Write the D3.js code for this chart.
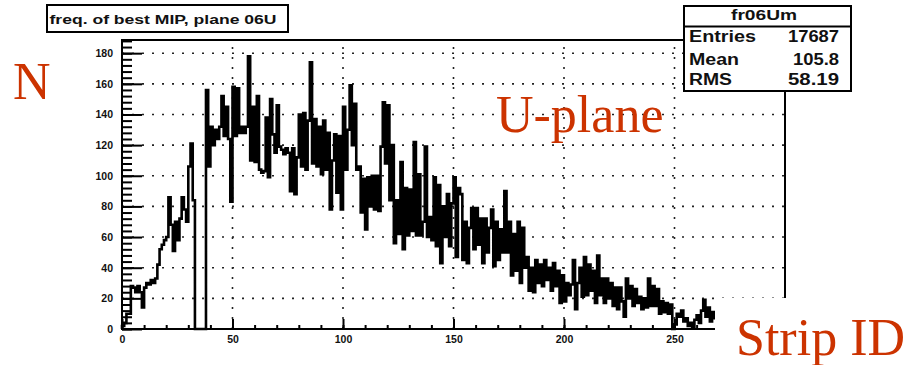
<!DOCTYPE html>
<html>
<head>
<meta charset="utf-8">
<script src="https://cdn.jsdelivr.net/npm/d3@7"></script>
<style>
  body { margin: 0; background: #fff; }
  svg { display: block; }
</style>
</head>
<body>
<svg id="chart" width="915" height="365"></svg>
<script>
// Counts per strip (one bin per strip, strips 0..268)
const counts = [
  2, 4, 10, 10, 28, 27, 24, 28, 24, 14,
  27, 30, 29, 32, 30, 33, 42, 52, 55, 58,
  60, 86, 68, 51, 70, 58, 72, 86, 78, 70,
  106, 121, 84, 0, 0, 0, 0, 0, 156, 106,
  132, 120, 130, 124, 132, 152, 126, 145, 124, 83,
  158, 126, 157, 128, 132, 128, 132, 178, 110, 145,
  109, 152, 104, 102, 103, 138, 99, 150, 127, 115,
  146, 119, 117, 114, 118, 115, 90, 118, 88, 112,
  140, 106, 141, 104, 136, 174, 108, 137, 106, 132,
  101, 136, 104, 128, 78, 110, 127, 89, 126, 78,
  145, 104, 130, 159, 120, 147, 104, 106, 76, 98,
  65, 99, 80, 100, 78, 100, 77, 119, 148, 108,
  146, 84, 120, 56, 84, 62, 109, 52, 92, 61,
  91, 64, 122, 61, 101, 61, 70, 119, 60, 73,
  58, 99, 54, 94, 43, 80, 60, 88, 54, 82,
  99, 47, 92, 88, 45, 70, 43, 66, 79, 52,
  79, 55, 72, 43, 72, 50, 66, 78, 41, 70,
  45, 65, 50, 90, 50, 70, 35, 62, 38, 70,
  30, 66, 40, 47, 25, 40, 24, 45, 30, 42,
  28, 45, 32, 40, 25, 43, 28, 38, 17, 35,
  18, 30, 22, 29, 45, 13, 30, 40, 21, 47,
  22, 42, 25, 38, 17, 48, 22, 33, 17, 33,
  20, 30, 15, 27, 13, 27, 18, 8, 33, 20,
  28, 15, 26, 17, 21, 13, 20, 14, 33, 15,
  28, 15, 26, 10, 18, 11, 17, 10, 16, 0,
  3, 10, 8, 12, 5, 7, 2, 4, 1, 6,
  9, 4, 12, 19, 8, 14, 5, 11, 7
];

const yTicks = [0, 20, 40, 60, 80, 100, 120, 140, 160, 180];
const yMinorTicks = d3.range(0, 189, 4);
const xTicks = [0, 50, 100, 150, 200, 250];
const xMinorTicks = d3.range(0, 301, 10);

const titleText = "freq. of best MIP, plane 06U";
const statsName = "fr06Um";
const statsLabels = ["Entries", "Mean", "RMS"];
const statsValues = ["17687", "105.8", "58.19"];

const yLabel = "N";
const xLabel = "Strip ID";
const planeLabel = "U-plane";

const svg = d3.select("#chart");
const x = d3.scaleLinear().domain([0, 300]).range([122, 785]);
const y = d3.scaleLinear().domain([0, 188.6]).range([329, 40]);

const rootFont = "'Liberation Sans', Arial, Helvetica, sans-serif";
const serifFont = "'Liberation Serif', 'Times New Roman', Times, serif";
const red = "#cc3300";

// Dotted grid
const grid = svg.append("g").attr("stroke", "#222").attr("stroke-width", 1.6)
  .attr("stroke-dasharray", "2,8").attr("fill", "none");
grid.selectAll("line.h").data(yTicks.filter(d => d > 0)).join("line")
  .attr("class", "h")
  .attr("x1", x(0)).attr("x2", x(300))
  .attr("y1", d => y(d)).attr("y2", d => y(d));
grid.selectAll("line.v").data(xTicks.filter(d => d > 0)).join("line")
  .attr("class", "v")
  .attr("x1", d => x(d)).attr("x2", d => x(d))
  .attr("y1", y(0)).attr("y2", y.range()[1]);

// Histogram outline
const pts = [[0, 0]].concat(counts.map((c, i) => [i, c]));
pts.push([counts.length, counts[counts.length - 1]]);
pts.push([counts.length, 0]);
const line = d3.line().x(d => x(d[0])).y(d => y(d[1])).curve(d3.curveStepAfter);
svg.append("path").attr("d", line(pts))
  .attr("fill", "none").attr("stroke", "#000").attr("stroke-width", 2.6)
  .attr("stroke-linejoin", "miter");

// Ticks drawn inside the frame
function ticksOnly(g) { g.select(".domain").remove(); g.selectAll("text").remove(); g.selectAll("line").attr("stroke", "#000").attr("stroke-width", 2); }
svg.append("g").attr("transform", `translate(${x(0)},0)`)
  .call(d3.axisRight(y).tickValues(yMinorTicks).tickSize(10)).call(ticksOnly);
svg.append("g").attr("transform", `translate(${x(0)},0)`)
  .call(d3.axisRight(y).tickValues(yTicks).tickSize(20)).call(ticksOnly);
svg.append("g").attr("transform", `translate(0,${y(0)})`)
  .call(d3.axisTop(x).tickValues(xMinorTicks).tickSize(4)).call(ticksOnly);
svg.append("g").attr("transform", `translate(0,${y(0)})`)
  .call(d3.axisTop(x).tickValues(xTicks).tickSize(10)).call(ticksOnly);

// Tick labels
function labelsOnly(g) {
  g.select(".domain").remove(); g.selectAll("line").remove();
  g.selectAll("text").attr("fill", "#111").attr("font-family", rootFont)
    .attr("font-weight", "bold").attr("font-size", 10.5);
}
svg.append("g").attr("transform", `translate(${x(0)},0)`)
  .call(d3.axisLeft(y).tickValues(yTicks).tickSize(0).tickPadding(9)).call(labelsOnly);
svg.append("g").attr("transform", `translate(0,${y(0)})`)
  .call(d3.axisBottom(x).tickValues(xTicks).tickSize(0).tickPadding(7)).call(labelsOnly);

// Frame
svg.append("rect").attr("x", x(0)).attr("y", y.range()[1])
  .attr("width", x(300) - x(0)).attr("height", y(0) - y.range()[1])
  .attr("fill", "none").attr("stroke", "#000").attr("stroke-width", 2);

// Title box
svg.append("rect").attr("x", 47).attr("y", 5).attr("width", 241).attr("height", 27)
  .attr("fill", "#fff").attr("stroke", "#000").attr("stroke-width", 2);
svg.append("text").attr("x", 49.5).attr("y", 24).text(titleText)
  .attr("font-family", rootFont).attr("font-weight", "bold").attr("font-size", 13)
  .attr("textLength", 227).attr("lengthAdjust", "spacingAndGlyphs").attr("fill", "#111");

// Statistics box
svg.append("rect").attr("x", 684).attr("y", 6).attr("width", 167).attr("height", 85)
  .attr("fill", "#fff").attr("stroke", "#000").attr("stroke-width", 2);
svg.append("line").attr("x1", 684).attr("x2", 851).attr("y1", 26.5).attr("y2", 26.5)
  .attr("stroke", "#000").attr("stroke-width", 2);
svg.append("text").attr("x", 731).attr("y", 20).text(statsName)
  .attr("textLength", 66).attr("lengthAdjust", "spacingAndGlyphs")
  .attr("font-family", rootFont).attr("font-weight", "bold").attr("font-size", 15).attr("fill", "#111");
const rowY = [41.5, 64.5, 85];
const labelW = [67, 50, 43];
const valueW = [51, 46, 51];
svg.selectAll("text.slab").data(statsLabels).join("text").attr("class", "slab")
  .attr("x", 689).attr("y", (d, i) => rowY[i]).text(d => d)
  .attr("textLength", (d, i) => labelW[i]).attr("lengthAdjust", "spacingAndGlyphs")
  .attr("font-family", rootFont).attr("font-weight", "bold").attr("font-size", 16).attr("fill", "#111");
svg.selectAll("text.sval").data(statsValues).join("text").attr("class", "sval")
  .attr("x", (d, i) => 839 - valueW[i]).attr("y", (d, i) => rowY[i]).text(d => d)
  .attr("textLength", (d, i) => valueW[i]).attr("lengthAdjust", "spacingAndGlyphs")
  .attr("font-family", rootFont).attr("font-weight", "bold").attr("font-size", 16).attr("fill", "#111");

// Annotations
svg.append("rect").attr("x", 715).attr("y", 298).attr("width", 200).attr("height", 67).attr("fill", "#fff");
svg.append("text").attr("x", 736).attr("y", 355).text(xLabel)
  .attr("font-family", serifFont).attr("font-size", 52).attr("fill", red);
svg.append("text").attr("x", 13).attr("y", 99).text(yLabel)
  .attr("font-family", serifFont).attr("font-size", 52).attr("fill", red);
svg.append("text").attr("x", 496).attr("y", 132).text(planeLabel)
  .attr("font-family", serifFont).attr("font-size", 52).attr("fill", red);
</script>
</body>
</html>
